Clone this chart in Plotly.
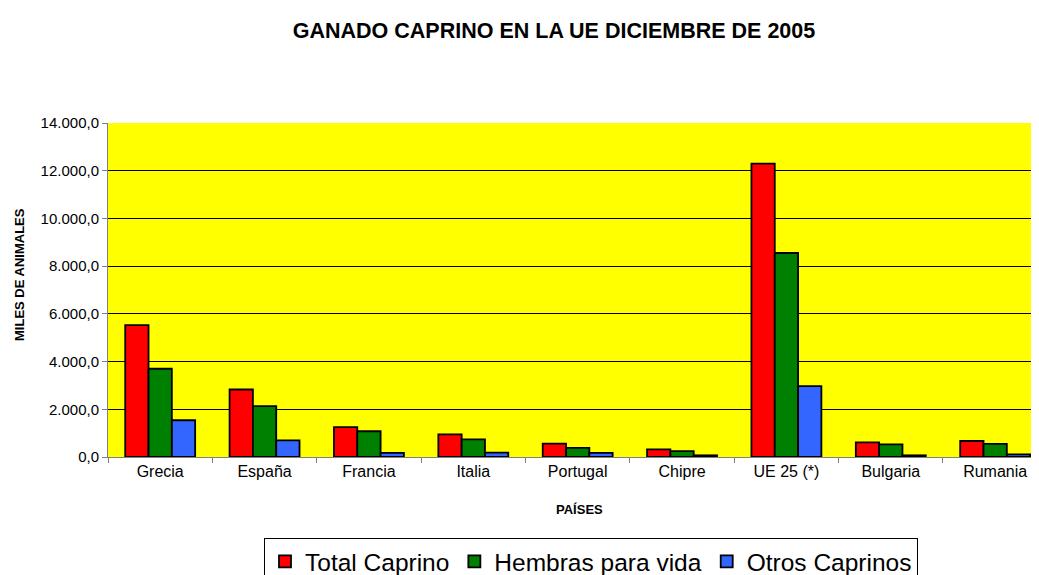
import plotly.graph_objects as go

paises = ["Grecia", "España", "Francia", "Italia", "Portugal", "Chipre", "UE 25 (*)", "Bulgaria", "Rumania"]
total_caprino = [5530, 2830, 1250, 950, 560, 320, 12300, 610, 670]
hembras_vida = [3700, 2130, 1080, 740, 380, 250, 8550, 530, 550]
otros_caprinos = [1540, 700, 170, 180, 170, 70, 2970, 70, 110]

# page offset of the plotly div (default body margin)
OFF = 8
W, H = 1039 - OFF, 575 - OFF
FONT = "Liberation Sans, Arial, sans-serif"

# target page-pixel geometry
PL, PT, PB = 108, 123, 457

fig = go.Figure()
series = [
    ("Total Caprino", total_caprino, "#FF0000"),
    ("Hembras para vida", hembras_vida, "#008000"),
    ("Otros Caprinos", otros_caprinos, "#3366FF"),
]
for name, vals, col in series:
    fig.add_trace(go.Bar(
        x=paises, y=vals, name=name,
        marker=dict(color=col, line=dict(color="black", width=1.8)),
    ))

pw = (1039 - PL)
ph = (PB - PT)

fig.update_layout(
    width=W, height=H,
    margin=dict(l=PL - OFF, r=0, t=PT - OFF, b=H - (PB - OFF), autoexpand=False),
    paper_bgcolor="white",
    plot_bgcolor="#FFFF00",
    barmode="group",
    bargap=0.33,
    bargroupgap=0,
    separators=",.",
    font=dict(family=FONT, color="black"),
    title=dict(
        text="<b>GANADO CAPRINO EN LA UE DICIEMBRE DE 2005</b>",
        x=(554 - OFF) / W, xref="container", xanchor="center",
        y=1 - (30 - OFF) / H, yref="container", yanchor="middle",
        font=dict(family=FONT, size=21.5, color="black"),
    ),
    showlegend=True,
    legend=dict(
        orientation="h",
        xref="container", yref="container",
        x=(264 - OFF) / W, y=1 - (538 - OFF) / H, xanchor="left", yanchor="top",
        bgcolor="white", bordercolor="black", borderwidth=1,
        font=dict(family=FONT, size=24.5, color="black"),
        traceorder="normal",
    ),
    xaxis=dict(
        type="category",
        range=[-0.5, 8.42],
        tickson="boundaries",
        ticks="outside", ticklen=5, tickcolor="#808080",
        showline=True, linecolor="#808080", linewidth=1,
        showgrid=False,
        tickfont=dict(family=FONT, size=16, color="black"),
    ),
    yaxis=dict(
        range=[0, 14000],
        dtick=2000,
        tickformat=",.1f",
        ticks="outside", ticklen=5, tickcolor="#808080",
        showline=True, linecolor="#808080", linewidth=1,
        showgrid=True, gridcolor="black", gridwidth=1,
        zeroline=False,
        tickfont=dict(family=FONT, size=15, color="black"),
    ),
    annotations=[
        dict(text="<b>PAÍSES</b>", xref="paper", yref="paper",
             x=(579 - PL) / pw, y=-(509 - PB) / ph,
             xanchor="center", yanchor="middle", showarrow=False,
             font=dict(family=FONT, size=13, color="black")),
        dict(text="<b>MILES DE ANIMALES</b>", xref="paper", yref="paper",
             x=-(PL - 19) / pw, y=(PB - 275) / ph,
             xanchor="center", yanchor="middle", showarrow=False, textangle=-90,
             font=dict(family=FONT, size=13, color="black")),
    ],
)

fig.write_html("out.html")
